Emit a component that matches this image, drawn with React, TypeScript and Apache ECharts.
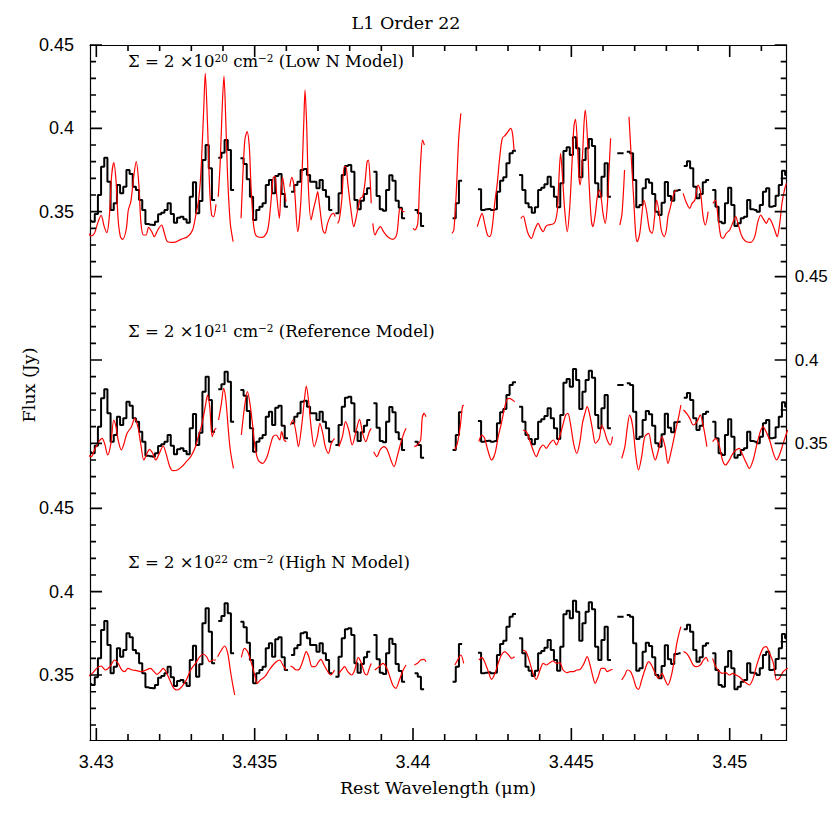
import React, { useEffect, useRef } from "react";
import * as echarts from "echarts";

// ---------- axis set-up ----------
const X_MIN = 3.4298;
const X_MAX = 3.4518;
const Y_MIN = 0.311;
const Y_MAX = 0.45;
const X_LABEL_FIRST = 3.43;
const X_LABEL_LAST = 3.45;
const X_MAJOR_STEP = 0.005;
const Y_LABEL_FIRST = 0.35;
const Y_LABEL_LAST = 0.45;
const Y_MAJOR_STEP = 0.05;
const X_TICKS = [3.43, 3.431, 3.432, 3.433, 3.434, 3.435, 3.436, 3.437, 3.438, 3.439, 3.44, 3.441, 3.442, 3.443, 3.444, 3.445, 3.446, 3.447, 3.448, 3.449, 3.45, 3.451];
const Y_TICKS = [0.32, 0.33, 0.34, 0.35, 0.36, 0.37, 0.38, 0.39, 0.4, 0.41, 0.42, 0.43, 0.44, 0.45];

const TITLE = "L1 Order 22";
const X_TITLE = "Rest Wavelength (\u03bcm)";
const Y_TITLE = "Flux (Jy)";
const PANEL_LABELS = [
  "\u03a3 = 2 \u00d710{s|20} cm{s|\u22122} (Low N Model)",
  "\u03a3 = 2 \u00d710{s|21} cm{s|\u22122} (Reference Model)",
  "\u03a3 = 2 \u00d710{s|22} cm{s|\u22122} (High N Model)",
];

// ---------- observed spectrum (same in every panel), uniform wavelength grid ----------
const OBS_START = 3.4298;
const OBS_STEP = 0.0001;
const OBS_FLUX: (number | null)[] = [
  0.3446, 0.344, 0.3486, 0.36, 0.377, 0.3824, 0.368, 0.351, 0.355, 0.366,
  0.361, 0.365, 0.375, 0.3726, 0.365, 0.363, 0.357, 0.351, 0.3426, 0.3422,
  0.342, 0.344, 0.3484, 0.3494, 0.351, 0.355, 0.3486, 0.3434, 0.3464, 0.347,
  0.3454, 0.3434, 0.359, 0.3676, 0.349, 0.3564, 0.381, 0.39, 0.376, 0.357,
  null, 0.3824, 0.3854, 0.393, 0.387, 0.363, null, null, 0.382, 0.3786,
  0.3694, 0.359, 0.345, 0.351, 0.353, 0.355, 0.366, 0.369, 0.361, 0.3714,
  0.3726, 0.3606, 0.353, null, 0.362, 0.366, 0.368, 0.375, 0.3756, 0.372,
  0.368, 0.368, 0.364, 0.369, 0.363, 0.359, 0.351, null, 0.349, 0.361,
  0.372, 0.3774, 0.378, 0.374, 0.357, 0.3514, 0.3566, 0.3606, 0.364, null,
  0.374, 0.3594, 0.3514, 0.3506, 0.363, 0.3718, 0.3686, 0.3566, 0.3524, 0.346,
  null, null, null, 0.351, 0.349, 0.3414, null, null, null, null,
  null, null, null, null, null, 0.346, 0.355, 0.3686, null, null,
  null, null, null, 0.3634, 0.351, 0.3514, 0.3516, 0.351, 0.3514, 0.362,
  0.3686, 0.3706, 0.379, 0.385, 0.3866, null, 0.372, 0.363, 0.355, 0.3526,
  0.3494, 0.3526, 0.363, 0.3644, 0.3664, 0.371, 0.365, 0.359, 0.3526, 0.367,
  0.3864, 0.3886, 0.384, 0.3946, 0.388, 0.3706, 0.381, 0.388, 0.3936, 0.3894,
  0.367, 0.359, 0.371, 0.379, 0.359, null, null, 0.385, 0.385, null,
  0.386, 0.385, 0.369, 0.3526, 0.354, 0.364, 0.3694, 0.3674, 0.3606, 0.35,
  0.348, 0.3554, 0.3678, 0.3594, 0.3566, 0.3626, 0.363, null, 0.3774, 0.3802,
  0.376, 0.365, 0.358, 0.3606, 0.3676, 0.369, null, 0.363, 0.353, 0.344,
  0.343, 0.355, 0.3644, 0.354, 0.3414, 0.343, 0.346, 0.347, 0.357, 0.3514,
  0.351, 0.35, 0.354, 0.362, 0.364, 0.353, 0.3534, 0.3596, 0.366, 0.3746, 0.372,
];

// ---------- models: segments of [wavelength, flux] ----------
const MODEL_LOW: number[][][] = [
  [[3.42973,0.338],[3.42983,0.3354],[3.42994,0.337],[3.43004,0.343],[3.43015,0.3478],[3.43025,0.341],[3.43033,0.3374],[3.43041,0.347],[3.43048,0.371],[3.43055,0.3794],[3.43062,0.369],[3.43069,0.345],[3.43076,0.335],[3.43083,0.3334],[3.43094,0.339],[3.43101,0.351],[3.43109,0.356],[3.43118,0.371],[3.43126,0.38],[3.43134,0.367],[3.43141,0.343],[3.43149,0.336],[3.43157,0.336],[3.43165,0.3406],[3.43175,0.338],[3.43183,0.335],[3.43194,0.339],[3.43206,0.342],[3.43215,0.337],[3.43225,0.332],[3.43246,0.3316],[3.43267,0.3334],[3.43288,0.335],[3.43304,0.339],[3.43315,0.349],[3.43323,0.357],[3.4333,0.373],[3.43339,0.411],[3.43344,0.433],[3.43351,0.403],[3.43358,0.363],[3.43364,0.348],[3.4337,0.347],[3.43378,0.3544]],
  [[3.43385,0.359],[3.43391,0.379],[3.43398,0.415],[3.43403,0.4314],[3.43409,0.403],[3.43415,0.369],[3.43423,0.343],[3.43432,0.332]],
  [[3.43457,0.346],[3.43463,0.373],[3.43469,0.393],[3.43476,0.398],[3.43483,0.389],[3.43488,0.367],[3.43495,0.345],[3.43501,0.337],[3.43509,0.335],[3.43525,0.3346],[3.43541,0.339],[3.43551,0.355],[3.43558,0.37],[3.43564,0.3714],[3.4357,0.359],[3.43578,0.346],[3.43583,0.363],[3.43588,0.3706],[3.43594,0.363],[3.43599,0.356]],
  [[3.43611,0.365],[3.43617,0.3706],[3.43625,0.365],[3.43636,0.338],[3.43646,0.357],[3.43655,0.403],[3.43659,0.423],[3.43664,0.403],[3.4367,0.363],[3.43678,0.345],[3.43685,0.351],[3.43694,0.358],[3.43699,0.362],[3.43704,0.355],[3.43715,0.339],[3.43722,0.337],[3.4373,0.343],[3.43741,0.348],[3.43749,0.349],[3.43754,0.347]],
  [[3.43762,0.343],[3.43767,0.345],[3.43775,0.357],[3.43783,0.377],[3.43788,0.377],[3.43794,0.367],[3.43804,0.351],[3.43813,0.341],[3.4382,0.346],[3.43827,0.353],[3.43834,0.358],[3.43841,0.359],[3.43848,0.367],[3.43855,0.38],[3.43859,0.381],[3.43864,0.371],[3.43868,0.355]],
  [[3.43873,0.343],[3.4388,0.336],[3.43888,0.339],[3.43897,0.341],[3.43907,0.338],[3.4392,0.335],[3.43936,0.3334],[3.43946,0.335],[3.43951,0.339],[3.43957,0.351],[3.43962,0.352],[3.43967,0.35],[3.43973,0.35]],
  [[3.44,0.34],[3.44006,0.339],[3.44015,0.343],[3.4402,0.363],[3.44025,0.383],[3.4403,0.393],[3.44036,0.39]],
  [[3.44123,0.337],[3.44129,0.339],[3.44137,0.363],[3.44144,0.393],[3.44151,0.409]],
  [[3.44203,0.341],[3.44211,0.346],[3.44218,0.349],[3.44226,0.343],[3.44235,0.336],[3.44242,0.335],[3.44249,0.339],[3.44258,0.355],[3.44266,0.367],[3.44274,0.383],[3.44282,0.394],[3.44292,0.396],[3.443,0.398],[3.44308,0.4],[3.44314,0.397],[3.44319,0.387]],
  [[3.4434,0.346],[3.44348,0.3474],[3.44355,0.343],[3.44363,0.337],[3.44374,0.334],[3.44384,0.339],[3.44395,0.343],[3.44403,0.34],[3.44411,0.338],[3.44419,0.341],[3.44426,0.342],[3.44442,0.3426],[3.44449,0.344],[3.44456,0.351],[3.4446,0.367],[3.44466,0.385],[3.44472,0.371],[3.44479,0.351],[3.44487,0.338],[3.44495,0.353],[3.44502,0.379],[3.44508,0.401],[3.44513,0.4054],[3.44519,0.391],[3.44524,0.371],[3.44528,0.366],[3.44535,0.383],[3.4454,0.403],[3.44544,0.411],[3.44551,0.393],[3.44556,0.367],[3.44563,0.345],[3.44568,0.341],[3.44576,0.349],[3.44582,0.359],[3.44589,0.363],[3.44595,0.357],[3.446,0.349],[3.44607,0.343],[3.44614,0.355],[3.44619,0.375],[3.44624,0.394]],
  [[3.44653,0.342],[3.4466,0.349],[3.44668,0.375]],
  [[3.44682,0.407],[3.44689,0.383],[3.44697,0.357],[3.44703,0.337],[3.44708,0.332],[3.44716,0.337],[3.44723,0.349],[3.44729,0.357],[3.44737,0.351],[3.44747,0.339],[3.44755,0.337],[3.44763,0.347],[3.44769,0.357],[3.44776,0.351],[3.44784,0.339],[3.44793,0.335],[3.448,0.339],[3.44805,0.347],[3.44812,0.352],[3.44818,0.357],[3.44826,0.362],[3.44832,0.363]],
  [[3.44853,0.361],[3.44864,0.355],[3.44874,0.352],[3.44881,0.355],[3.4489,0.357],[3.449,0.366],[3.44907,0.363],[3.44916,0.347],[3.44923,0.342],[3.44932,0.35]],
  [[3.44947,0.355],[3.44955,0.357],[3.44963,0.347],[3.44972,0.335],[3.44979,0.334],[3.44989,0.337],[3.45,0.339],[3.45011,0.344],[3.45019,0.347],[3.45026,0.343],[3.45035,0.337],[3.45042,0.334],[3.45053,0.332],[3.45066,0.3316],[3.45079,0.335],[3.45089,0.344],[3.45098,0.348],[3.45105,0.346],[3.45116,0.343],[3.45124,0.346],[3.45132,0.344],[3.45142,0.339],[3.4515,0.335],[3.45158,0.343],[3.45165,0.355],[3.45174,0.364],[3.45179,0.367]],
];

const MODEL_REF: number[][][] = [
  [[3.42973,0.343],[3.42984,0.342],[3.42994,0.346],[3.43008,0.351],[3.43018,0.353],[3.43026,0.35],[3.43036,0.343],[3.43046,0.35],[3.43055,0.364],[3.43062,0.36],[3.43069,0.352],[3.43079,0.346],[3.43086,0.349],[3.43097,0.356],[3.43111,0.36],[3.43121,0.365],[3.43131,0.36],[3.4314,0.35],[3.4315,0.34],[3.4316,0.344],[3.43168,0.3464],[3.43178,0.344],[3.43188,0.34],[3.43199,0.344],[3.43211,0.3484],[3.4322,0.344],[3.43232,0.336],[3.43242,0.3336],[3.43256,0.334],[3.4327,0.336],[3.43284,0.339],[3.43298,0.342],[3.43313,0.348],[3.43322,0.354],[3.43334,0.362],[3.43344,0.372],[3.43351,0.379],[3.43358,0.372],[3.43366,0.354],[3.43373,0.358],[3.43379,0.359]],
  [[3.43386,0.364],[3.43395,0.374],[3.43402,0.383],[3.43409,0.376],[3.43416,0.36],[3.43423,0.346],[3.43433,0.335]],
  [[3.43458,0.355],[3.43468,0.372],[3.43477,0.381],[3.43485,0.374],[3.43494,0.36],[3.43501,0.348],[3.43511,0.34],[3.43525,0.338],[3.43539,0.342],[3.43551,0.35],[3.43558,0.354],[3.43568,0.355],[3.43579,0.352],[3.43585,0.357],[3.43593,0.352],[3.436,0.351]],
  [[3.43613,0.361],[3.43621,0.364],[3.43631,0.356],[3.43638,0.348],[3.43648,0.36],[3.43657,0.376],[3.43663,0.3844],[3.4367,0.376],[3.43678,0.36],[3.43688,0.348],[3.43698,0.354],[3.43706,0.362],[3.43715,0.356],[3.43723,0.348],[3.43733,0.344],[3.43742,0.35],[3.43752,0.353]],
  [[3.43766,0.348],[3.43777,0.354],[3.43787,0.363],[3.43797,0.358],[3.43808,0.349],[3.4382,0.357],[3.43831,0.3644],[3.43841,0.356],[3.43851,0.351],[3.43862,0.357],[3.43868,0.359]],
  [[3.43876,0.345],[3.43886,0.342],[3.43896,0.346],[3.43908,0.348],[3.43919,0.346],[3.4393,0.34],[3.4394,0.336],[3.4395,0.342],[3.43961,0.35],[3.43971,0.356],[3.43978,0.359]],
  [[3.44004,0.348],[3.44014,0.349],[3.44024,0.352],[3.44029,0.365],[3.44035,0.368],[3.44041,0.366]],
  [[3.44132,0.346],[3.4414,0.35],[3.44149,0.36],[3.44156,0.372],[3.4416,0.373]],
  [[3.44208,0.351],[3.44217,0.355],[3.44226,0.353],[3.44236,0.346],[3.44248,0.34],[3.44259,0.344],[3.44269,0.354],[3.44279,0.362],[3.4429,0.372],[3.44297,0.3764],[3.44304,0.377],[3.44314,0.376],[3.44321,0.375]],
  [[3.44347,0.358],[3.44358,0.357],[3.44368,0.352],[3.44379,0.346],[3.44389,0.342],[3.44401,0.347],[3.44411,0.349],[3.44421,0.347],[3.44432,0.35],[3.44443,0.352],[3.44453,0.349],[3.4446,0.352],[3.44472,0.36],[3.44482,0.367],[3.44489,0.368],[3.44497,0.362],[3.44507,0.35],[3.44517,0.344],[3.44527,0.351],[3.44535,0.362],[3.44543,0.368],[3.4455,0.372],[3.44557,0.368],[3.44567,0.358],[3.44576,0.35],[3.44588,0.353],[3.44596,0.361],[3.44605,0.357],[3.44613,0.352],[3.44623,0.349],[3.4463,0.354]],
  [[3.44659,0.341],[3.44669,0.348],[3.44677,0.36],[3.44684,0.367],[3.44694,0.36],[3.44704,0.342],[3.44712,0.334],[3.44722,0.342],[3.44732,0.354],[3.44744,0.356],[3.44753,0.348],[3.44765,0.34],[3.44775,0.346],[3.44786,0.354],[3.44796,0.348],[3.44805,0.338],[3.44815,0.345],[3.44825,0.354],[3.44833,0.361],[3.4484,0.367],[3.44846,0.373]],
  [[3.44854,0.37],[3.44864,0.368],[3.44874,0.365],[3.44885,0.361],[3.44897,0.363],[3.44907,0.367],[3.44917,0.36],[3.44928,0.348]],
  [[3.44946,0.351],[3.44956,0.353],[3.44968,0.348],[3.44977,0.34],[3.44987,0.337],[3.44999,0.34],[3.4501,0.344],[3.4502,0.346],[3.4503,0.347],[3.45041,0.343],[3.45053,0.338],[3.45062,0.335],[3.45074,0.34],[3.45084,0.348],[3.45095,0.356],[3.45105,0.36],[3.45115,0.357],[3.45126,0.352],[3.45138,0.344],[3.45148,0.34],[3.45157,0.343],[3.45169,0.35],[3.45183,0.358]],
];

const MODEL_HIGH: number[][][] = [
  [[3.42973,0.349],[3.42987,0.351],[3.43001,0.354],[3.43015,0.3554],[3.43029,0.353],[3.43043,0.355],[3.43058,0.359],[3.43069,0.357],[3.43079,0.3534],[3.43089,0.352],[3.431,0.354],[3.43114,0.353],[3.43128,0.3526],[3.43143,0.352],[3.43157,0.353],[3.43171,0.354],[3.43182,0.352],[3.43192,0.3504],[3.43202,0.352],[3.43211,0.354],[3.4322,0.352],[3.43232,0.347],[3.43245,0.342],[3.43256,0.341],[3.4327,0.343],[3.43284,0.347],[3.43298,0.353],[3.43313,0.357],[3.43327,0.361],[3.43338,0.3626],[3.43348,0.361],[3.43358,0.358],[3.43369,0.359],[3.43378,0.359]],
  [[3.43383,0.361],[3.43395,0.365],[3.43405,0.3674],[3.43415,0.363],[3.43423,0.353],[3.4343,0.345],[3.43437,0.338]],
  [[3.43458,0.3606],[3.43468,0.366],[3.43478,0.364],[3.4349,0.357],[3.435,0.35],[3.43508,0.345],[3.43518,0.347],[3.43532,0.349],[3.43546,0.353],[3.43558,0.356],[3.43568,0.358],[3.43579,0.359],[3.43589,0.356],[3.43599,0.353]],
  [[3.43613,0.3554],[3.43621,0.3546],[3.43631,0.353],[3.43641,0.3534],[3.43653,0.359],[3.43663,0.364],[3.43671,0.361],[3.43681,0.355],[3.43691,0.355],[3.43702,0.358],[3.43709,0.3594],[3.43719,0.356],[3.43731,0.352],[3.4374,0.35],[3.43752,0.353]],
  [[3.43766,0.351],[3.43776,0.3534],[3.43784,0.355],[3.43794,0.352],[3.43806,0.35],[3.43816,0.353],[3.43827,0.3606],[3.43837,0.357],[3.43847,0.351],[3.43854,0.35],[3.43862,0.354],[3.43868,0.357]],
  [[3.43879,0.353],[3.43893,0.355],[3.43905,0.357],[3.43915,0.355],[3.43925,0.35],[3.43936,0.344],[3.43946,0.342],[3.43957,0.347],[3.43969,0.353],[3.43978,0.356]],
  [[3.44004,0.356],[3.44014,0.357],[3.44024,0.359],[3.44035,0.3594],[3.44041,0.358]],
  [[3.44132,0.356],[3.44141,0.359],[3.44151,0.362],[3.4416,0.357]],
  [[3.44208,0.359],[3.44217,0.3606],[3.44226,0.358],[3.44238,0.352],[3.44248,0.3474],[3.44259,0.351],[3.44269,0.357],[3.44279,0.362],[3.4429,0.364],[3.44302,0.362],[3.44311,0.36],[3.44321,0.361]],
  [[3.44347,0.365],[3.44357,0.364],[3.44368,0.358],[3.44379,0.351],[3.44389,0.3474],[3.44401,0.353],[3.44411,0.357],[3.44421,0.356],[3.44432,0.3574],[3.44442,0.3584],[3.44453,0.357],[3.44463,0.3574],[3.44474,0.353],[3.44486,0.3514],[3.44496,0.352],[3.44507,0.352],[3.44517,0.353],[3.44528,0.3534],[3.4454,0.357],[3.4455,0.361],[3.44559,0.356],[3.44568,0.349],[3.44575,0.345],[3.44585,0.349],[3.44595,0.354],[3.44605,0.354],[3.44613,0.352],[3.44623,0.353],[3.4463,0.3534]],
  [[3.44659,0.347],[3.44669,0.35],[3.44677,0.353],[3.44687,0.352],[3.44696,0.348],[3.44704,0.343],[3.44712,0.3414],[3.44722,0.347],[3.44732,0.353],[3.44744,0.358],[3.44753,0.356],[3.44765,0.351],[3.44775,0.348],[3.44786,0.351],[3.44796,0.347],[3.44805,0.344],[3.44815,0.349],[3.44825,0.359],[3.44833,0.369],[3.4484,0.375],[3.44846,0.379]],
  [[3.44854,0.364],[3.44864,0.363],[3.44874,0.36],[3.44885,0.356],[3.44895,0.355],[3.44907,0.356],[3.44917,0.359],[3.44925,0.3606],[3.44932,0.358]],
  [[3.44946,0.36],[3.44956,0.355],[3.44968,0.352],[3.44977,0.351],[3.44987,0.3514],[3.44999,0.35],[3.4501,0.351],[3.4502,0.35],[3.4503,0.349],[3.45041,0.347],[3.45053,0.345],[3.45062,0.344],[3.45074,0.348],[3.45084,0.355],[3.45094,0.361],[3.45105,0.366],[3.45115,0.367],[3.45126,0.363],[3.45138,0.357],[3.45148,0.347],[3.45157,0.348],[3.45169,0.352],[3.45183,0.354]],
];

const MODELS = [MODEL_LOW, MODEL_REF, MODEL_HIGH];

// ---------- helpers ----------
function joinSegments(segs: number[][][]): any[] {
  const out: any[] = [];
  segs.forEach((s, i) => {
    if (i > 0) {
      const prev = segs[i - 1][segs[i - 1].length - 1][0];
      out.push([(prev + s[0][0]) / 2, "-"]);
    }
    s.forEach((p) => out.push([p[0], p[1]]));
  });
  return out;
}

const fmt = (v: any) => String(parseFloat(Number(v).toFixed(3)));
const isMultiple = (v: number, step: number) => Math.abs(v / step - Math.round(v / step)) < 1e-6;

export default function App() {
  const ref = useRef<HTMLDivElement>(null);

  useEffect(() => {
    if (!ref.current) return;
    const chart = echarts.init(ref.current, undefined, { renderer: "svg" });

    const PANEL_TOP = 45;
    const PANEL_H = 231.67;
    const LEFT = 90;
    const WIDTH = 696.7;
    const PX = (x: number) => LEFT + ((x - X_MIN) / (X_MAX - X_MIN)) * WIDTH;
    const PY = (i: number, y: number) => PANEL_TOP + i * PANEL_H + ((Y_MAX - y) / (Y_MAX - Y_MIN)) * PANEL_H;
    const dX = (n: number) => (n * (X_MAX - X_MIN)) / WIDTH;
    const dY = (n: number) => (n * (Y_MAX - Y_MIN)) / PANEL_H;

    const tickFont = { fontFamily: "Liberation Sans", fontSize: 18, color: "#000" };
    const serif = "DejaVu Serif";
    const black = { color: "#000", width: 1.2 };

    const G: any = (left: number, top: number, width: number, height: number) => ({
      left, top, width, height, containLabel: false, outerBoundsMode: "none",
    });

    const grids: any[] = [];
    const xAxes: any[] = [];
    const yAxes: any[] = [];

    for (let i = 0; i < 3; i++) grids.push(G(LEFT, PANEL_TOP + i * PANEL_H, WIDTH, PANEL_H));
    for (let i = 0; i < 3; i++) {
      grids.push(G(LEFT, PY(i, Y_LABEL_LAST), WIDTH, PY(i, Y_LABEL_FIRST) - PY(i, Y_LABEL_LAST)));
    }
    grids.push(G(PX(X_LABEL_FIRST), PANEL_TOP, PX(X_LABEL_LAST) - PX(X_LABEL_FIRST), 3 * PANEL_H));

    for (let i = 0; i < 3; i++) {
      xAxes.push({
        gridIndex: i,
        type: "value",
        min: X_MIN,
        max: X_MAX,
        show: i !== 1,
        position: i === 0 ? "top" : "bottom",
        axisLine: { show: true, onZero: false, lineStyle: black },
        axisTick: { show: false },
        axisLabel: { show: false },
        splitLine: { show: false },
      });
    }
    for (let g = 3; g <= 5; g++) xAxes.push({ gridIndex: g, type: "value", show: false, min: 0, max: 1 });
    xAxes.push({
      gridIndex: 6,
      type: "value",
      min: X_LABEL_FIRST,
      max: X_LABEL_LAST,
      interval: X_MAJOR_STEP,
      position: "bottom",
      axisLine: { show: false, onZero: false },
      axisTick: { show: false },
      axisLabel: { show: true, formatter: fmt, margin: 13, showMinLabel: true, showMaxLabel: true, ...tickFont },
      splitLine: { show: false },
    });

    for (let i = 0; i < 3; i++) {
      ["left", "right"].forEach((side) => {
        yAxes.push({
          gridIndex: i,
          type: "value",
          min: Y_MIN,
          max: Y_MAX,
          position: side,
          axisLine: { show: true, onZero: false, lineStyle: black },
          axisTick: { show: false },
          axisLabel: { show: false },
          splitLine: { show: false },
        });
      });
    }
    for (let i = 0; i < 3; i++) {
      ["left", "right"].forEach((side) => {
        const labelled = (side === "left" && i !== 1) || (side === "right" && i === 1);
        yAxes.push({
          gridIndex: 3 + i,
          type: "value",
          min: Y_LABEL_FIRST,
          max: Y_LABEL_LAST,
          interval: Y_MAJOR_STEP,
          position: side,
          axisLine: { show: false, onZero: false },
          axisTick: { show: false },
          axisLabel: {
            show: labelled,
            formatter: fmt,
            margin: side === "left" ? 16 : 8,
            padding: [6, 0, 0, 0],
            showMinLabel: true,
            showMaxLabel: true,
            ...tickFont,
            fontSize: side === "left" ? 18 : 17,
          },
          splitLine: { show: false },
        });
      });
    }
    yAxes.push({ gridIndex: 6, type: "value", show: false, min: 0, max: 1 });

    const obsData = OBS_FLUX.map((f, i) => [OBS_START + i * OBS_STEP, f === null ? "-" : f]);

    const yTickData: any[] = [];
    Y_TICKS.forEach((v) => {
      const len = isMultiple(v, Y_MAJOR_STEP) ? 12 : 6;
      yTickData.push([X_MIN, v], [X_MIN + dX(len), v], [X_MIN + dX(len), "-"]);
      yTickData.push([X_MAX - dX(len), v], [X_MAX, v], [X_MAX, "-"]);
    });
    const xTickData = (atTop: boolean) => {
      const out: any[] = [];
      X_TICKS.forEach((v) => {
        const len = isMultiple(v, X_MAJOR_STEP) ? 12 : 6;
        const y0 = atTop ? Y_MAX : Y_MIN;
        const y1 = atTop ? Y_MAX - dY(len) : Y_MIN + dY(len);
        out.push([v, y0], [v, y1], [v, "-"]);
      });
      return out;
    };
    const tickSeries = (i: number, data: any[]) => ({
      type: "line",
      xAxisIndex: i,
      yAxisIndex: 2 * i,
      data,
      showSymbol: false,
      symbol: "none",
      connectNulls: false,
      clip: false,
      lineStyle: { color: "#000", width: 1.6, cap: "butt" },
      z: 5,
      silent: true,
    });

    const series: any[] = [];
    for (let i = 0; i < 3; i++) {
      series.push({
        type: "line",
        xAxisIndex: i,
        yAxisIndex: 2 * i,
        data: obsData,
        step: "middle",
        showSymbol: false,
        symbol: "none",
        connectNulls: false,
        lineStyle: { color: "#000", width: 2 },
        z: 2,
        silent: true,
      });
      series.push({
        type: "line",
        xAxisIndex: i,
        yAxisIndex: 2 * i,
        data: joinSegments(MODELS[i]),
        smooth: 0.3,
        showSymbol: false,
        symbol: "none",
        connectNulls: false,
        lineStyle: { color: "#ff0000", width: 1.2 },
        z: 3,
        silent: true,
      });
      series.push(tickSeries(i, yTickData));
    }
    series.push(tickSeries(0, xTickData(true)));
    series.push(tickSeries(2, xTickData(false)));

    const richSup = {
      s: { fontFamily: serif, fontSize: 10.5, fill: "#000", color: "#000", verticalAlign: "top", lineHeight: 10 },
    };
    const annoY = [61, 331, 562];
    const centered = { textAlign: "center", textVerticalAlign: "middle", align: "center", verticalAlign: "middle" };

    const graphic: any[] = [
      { type: "text", x: 406, y: 23, style: { text: TITLE, fontFamily: serif, fontSize: 17.5, fill: "#000", ...centered } },
      { type: "text", x: 438, y: 788, style: { text: X_TITLE, fontFamily: serif, fontSize: 17.5, fill: "#000", ...centered } },
      { type: "text", x: 29, y: 385, rotation: Math.PI / 2, style: { text: Y_TITLE, fontFamily: serif, fontSize: 17.5, fill: "#000", ...centered } },
      ...PANEL_LABELS.map((t, i) => ({
        type: "text",
        x: 128,
        y: annoY[i],
        style: {
          text: t,
          fontFamily: serif,
          fontSize: 16.5,
          fill: "#000",
          textAlign: "left",
          textVerticalAlign: "middle",
          align: "left",
          verticalAlign: "middle",
          rich: richSup,
        },
      })),
    ];

    chart.setOption({
      animation: false,
      backgroundColor: "#fff",
      grid: grids,
      xAxis: xAxes,
      yAxis: yAxes,
      series,
      graphic,
    });

    return () => chart.dispose();
  }, []);

  return (
    <div
      ref={ref}
      style={{ position: "absolute", left: 0, top: 0, width: 830, height: 830, background: "#fff" }}
    />
  );
}
